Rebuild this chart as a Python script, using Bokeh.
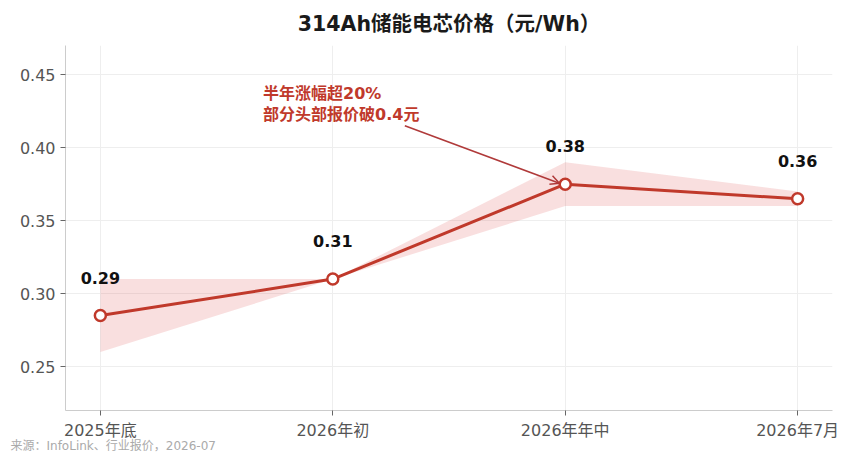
from bokeh.plotting import figure
from bokeh.models import Label, Arrow, OpenHead, FixedTicker, Range1d, ColumnDataSource, Title
from bokeh.embed import file_html
from bokeh.resources import INLINE
from bokeh.core.properties import value

# ---- data ----
categories = ["2025年底", "2026年初", "2026年年中", "2026年7月"]
prices = [0.285, 0.31, 0.375, 0.365]
price_labels = ["0.29", "0.31", "0.38", "0.36"]
band_low = [0.26, 0.31, 0.36, 0.36]
band_high = [0.31, 0.31, 0.39, 0.37]
y_ticks = [0.25, 0.30, 0.35, 0.40, 0.45]
title_text = "314Ah储能电芯价格（元/Wh）"
note_text = "半年涨幅超20%\n部分头部报价破0.4元"
source_text = "来源：InfoLink、行业报价，2026-07"

FONT = "DejaVu Sans, Noto Sans CJK SC"
RED = "#c0392b"

xs = list(range(len(categories)))
src = ColumnDataSource(dict(x=xs, y=prices, lab=price_labels, lo=band_low, hi=band_high))

p = figure(width=850, height=461, output_backend="svg", toolbar_location=None,
           x_range=Range1d(-0.15, 3.15), y_range=Range1d(0.22, 0.47),
           min_border_left=65, min_border_right=18, min_border_top=45, min_border_bottom=51)
p.outline_line_color = None
p.background_fill_color = "white"

p.title.text = title_text
p.title.align = "center"
p.title.text_font = FONT
p.title.text_font_style = "bold"
p.title.text_font_size = "20.5px"
p.title.text_color = "#1a1a1a"
p.title.standoff = 19

# band
p.varea(x="x", y1="lo", y2="hi", source=src, fill_color="#e06060", fill_alpha=0.2)
# line + markers
p.line(x="x", y="y", source=src, line_color=RED, line_width=3)
p.scatter(x="x", y="y", source=src, size=11, fill_color="white", line_color=RED, line_width=2.5)
# value labels
p.text(x="x", y="y", text="lab", source=src, y_offset=-38, text_align="center",
       text_baseline="middle", text_font=value(FONT), text_font_style="bold",
       text_font_size="16px", text_color="#111111")

# axes
p.xaxis.ticker = FixedTicker(ticks=xs)
p.xaxis.major_label_overrides = {i: c for i, c in enumerate(categories)}
p.yaxis.ticker = FixedTicker(ticks=y_ticks)
p.yaxis.major_label_overrides = {t: f"{t:.2f}" for t in y_ticks}
for ax in (p.xaxis, p.yaxis):
    ax.axis_line_color = "#cccccc"
    ax.major_tick_line_color = "#666666"
    ax.major_tick_out = 5
    ax.major_tick_in = 0
    ax.minor_tick_line_color = None
    ax.major_label_text_font = FONT
    ax.major_label_text_font_size = "16px"
    ax.major_label_text_color = "#555555"
    ax.major_label_standoff = 5
p.xgrid.ticker = FixedTicker(ticks=xs)
p.ygrid.ticker = FixedTicker(ticks=y_ticks)
p.grid.grid_line_color = "#eeeeee"
p.grid.grid_line_width = 1

# annotation arrow + note
p.add_layout(Arrow(end=OpenHead(size=9, line_color="#b03a3a", line_width=1.5),
                   x_start=1.31, y_start=0.415, x_end=1.975, y_end=0.3757,
                   line_color="#b03a3a", line_width=1.5))
p.add_layout(Label(x=0.70, y=0.4436, text=note_text, text_align="left", text_baseline="top",
                   text_font=FONT, text_font_style="bold", text_font_size="16px",
                   text_color=RED, text_line_height=1.08))

# source line below the axis
p.add_layout(Title(text=source_text, align="left", offset=-55, standoff=-12,
                   text_font=FONT, text_font_style="normal", text_font_size="12px",
                   text_color="#aaaaaa"), "below")

open("out.html", "w").write(file_html(p, INLINE))
